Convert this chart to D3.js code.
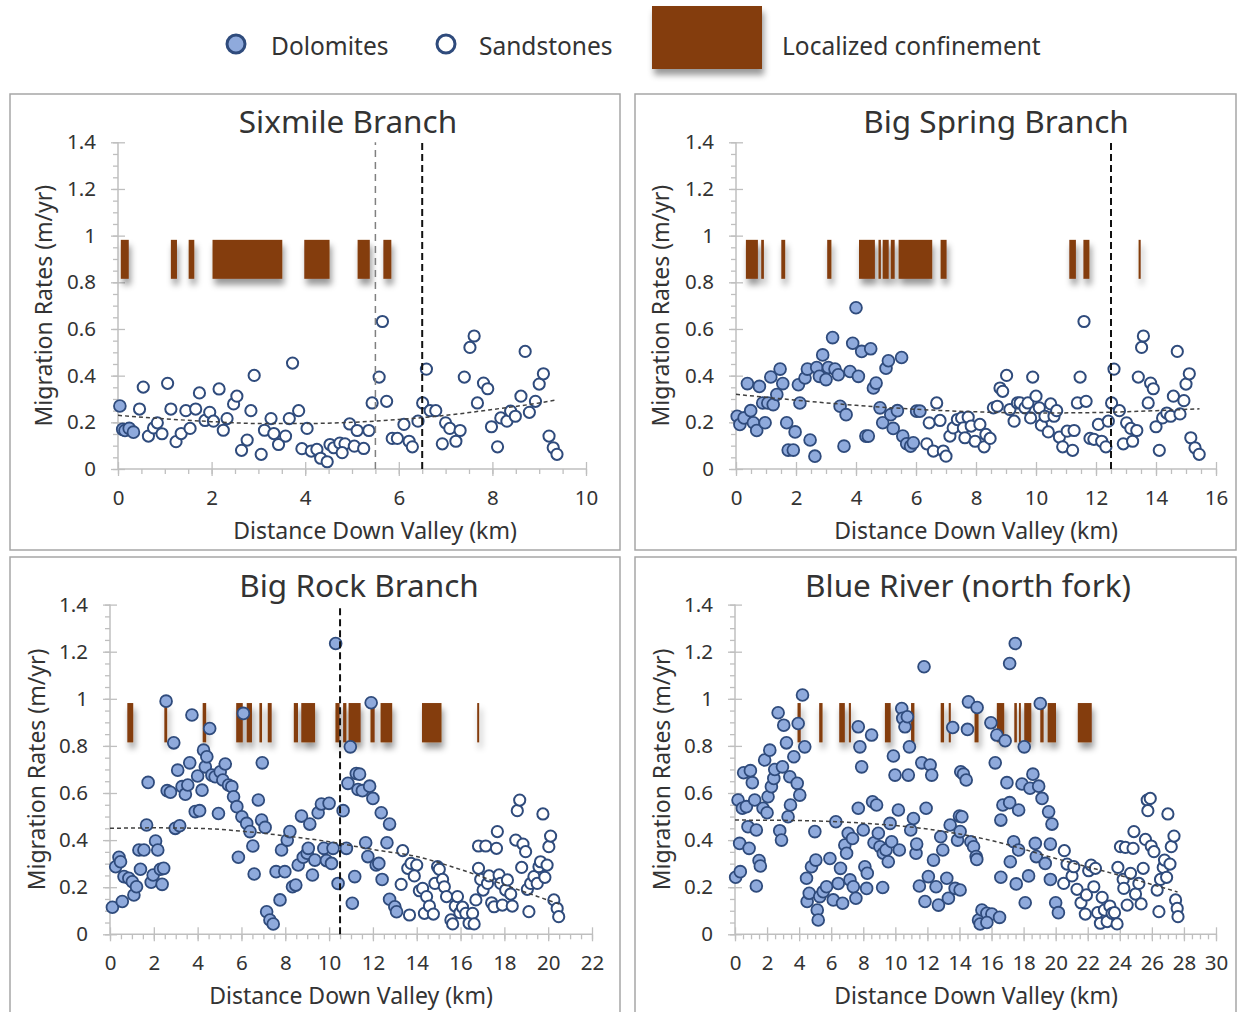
<!DOCTYPE html>
<html>
<head>
<meta charset="utf-8">
<script src="https://cdn.jsdelivr.net/npm/d3@7"></script>
<style>
  body { margin: 0; background: #fff; }
  text { font-family: "Noto Sans", "Open Sans", sans-serif; fill: #333; }
</style>
</head>
<body>
<div id="container"></div>
<script>
// ---- data (km, m/yr) ----
const dolo1 = [[0.04,0.27],[0.1,0.17],[0.15,0.165],[0.24,0.174],[0.33,0.158]];
const sand1 = [[0.46,0.257],[0.54,0.351],[0.65,0.141],[0.76,0.176],[0.84,0.198],[0.94,0.151],[1.06,0.367],[1.13,0.257],[1.24,0.117],[1.35,0.152],[1.45,0.25],[1.54,0.174],[1.66,0.257],[1.74,0.326],[1.86,0.208],[1.96,0.243],[2.04,0.205],[2.16,0.343],[2.25,0.166],[2.33,0.216],[2.47,0.279],[2.54,0.312],[2.64,0.08],[2.76,0.124],[2.84,0.25],[2.91,0.401],[3.06,0.063],[3.13,0.166],[3.27,0.216],[3.33,0.152],[3.43,0.105],[3.58,0.141],[3.66,0.216],[3.73,0.454],[3.86,0.25],[3.93,0.087],[4.04,0.174],[4.13,0.077],[4.25,0.084],[4.33,0.046],[4.47,0.031],[4.53,0.105],[4.61,0.091],[4.74,0.111],[4.85,0.108],[4.95,0.193],[5.05,0.098],[5.11,0.165],[4.79,0.07],[5.25,0.088],[5.36,0.165],[5.43,0.283],[5.58,0.394],[5.65,0.632],[5.74,0.29],[5.86,0.131],[5.97,0.131],[6.11,0.191],[6.22,0.119],[6.29,0.095],[6.41,0.205],[6.51,0.283],[6.59,0.428],[6.67,0.25],[6.79,0.25],[6.93,0.108],[7.0,0.198],[7.09,0.174],[7.22,0.119],[7.31,0.165],[7.4,0.394],[7.52,0.521],[7.61,0.57],[7.68,0.283],[7.81,0.368],[7.9,0.344],[7.98,0.181],[8.11,0.095],[8.18,0.219],[8.31,0.205],[8.39,0.248],[8.49,0.226],[8.61,0.312],[8.7,0.504],[8.79,0.243],[8.92,0.29],[9.0,0.364],[9.09,0.408],[9.21,0.141],[9.3,0.091],[9.38,0.063]];
const conf1 = [[0.06,0.23],[1.13,1.26],[1.51,1.63],[2.02,3.51],[3.98,4.52],[5.12,5.38],[5.67,5.84]];
const trend1 = [[0,0.23],[1,0.215],[2,0.203],[3,0.195],[4,0.195],[5,0.2],[6,0.212],[7,0.23],[8,0.255],[9,0.283],[9.35,0.295]];
const guideGray1 = [5.5];
const guideBlack1 = [6.5];

const dolo2 = [[0.04,0.226],[0.13,0.191],[0.27,0.219],[0.38,0.366],[0.49,0.25],[0.58,0.198],[0.69,0.165],[0.78,0.354],[0.89,0.283],[0.97,0.198],[1.06,0.283],[1.16,0.394],[1.24,0.276],[1.36,0.319],[1.47,0.428],[1.56,0.366],[1.69,0.198],[1.74,0.081],[1.91,0.081],[1.97,0.159],[2.08,0.361],[2.13,0.283],[2.3,0.39],[2.38,0.428],[2.47,0.124],[2.63,0.055],[2.69,0.435],[2.78,0.397],[2.89,0.489],[3.0,0.383],[3.08,0.435],[3.22,0.563],[3.3,0.428],[3.41,0.404],[3.47,0.269],[3.6,0.098],[3.67,0.233],[3.8,0.418],[3.89,0.539],[4.0,0.691],[4.08,0.397],[4.19,0.504],[4.33,0.141],[4.41,0.141],[4.49,0.515],[4.58,0.347],[4.67,0.368],[4.8,0.262],[4.89,0.198],[5.0,0.432],[5.08,0.464],[5.16,0.233],[5.24,0.174],[5.38,0.25],[5.52,0.478],[5.56,0.141],[5.69,0.108],[5.82,0.098],[5.91,0.112],[6.02,0.248],[6.13,0.248]];
const sand2 = [[6.36,0.108],[6.44,0.198],[6.58,0.077],[6.69,0.283],[6.8,0.208],[6.91,0.077],[7.0,0.055],[7.13,0.141],[7.24,0.176],[7.38,0.212],[7.52,0.219],[7.58,0.176],[7.63,0.134],[7.74,0.222],[7.84,0.184],[7.97,0.119],[8.13,0.191],[8.27,0.095],[8.33,0.148],[8.47,0.131],[8.58,0.262],[8.71,0.269],[8.8,0.347],[8.89,0.333],[9.02,0.401],[9.13,0.255],[9.27,0.205],[9.38,0.283],[9.47,0.283],[9.63,0.262],[9.73,0.283],[9.82,0.219],[9.89,0.394],[10.0,0.312],[10.11,0.262],[10.18,0.188],[10.3,0.226],[10.41,0.159],[10.49,0.279],[10.6,0.226],[10.69,0.25],[10.78,0.137],[10.89,0.095],[11.04,0.162],[11.22,0.08],[11.27,0.165],[11.38,0.283],[11.47,0.394],[11.6,0.632],[11.67,0.29],[11.8,0.131],[11.93,0.127],[12.08,0.191],[12.19,0.119],[12.33,0.095],[12.41,0.205],[12.52,0.283],[12.6,0.428],[12.78,0.25],[12.91,0.108],[13.02,0.198],[13.16,0.174],[13.22,0.119],[13.36,0.165],[13.41,0.394],[13.52,0.521],[13.58,0.57],[13.74,0.283],[13.82,0.368],[13.91,0.344],[14.0,0.181],[14.11,0.08],[14.22,0.219],[14.36,0.24],[14.49,0.226],[14.58,0.312],[14.71,0.504],[14.8,0.236],[14.93,0.293],[15.0,0.364],[15.11,0.408],[15.16,0.134],[15.3,0.091],[15.44,0.063]];
const conf2 = [[0.33,0.73],[0.84,0.93],[1.51,1.64],[3.04,3.18],[4.1,4.63],[4.75,4.83],[4.89,5.09],[5.16,5.29],[5.42,6.54],[6.82,7.02],[11.11,11.33],[11.58,11.78],[13.42,13.49]];
const trend2 = [[0,0.32],[2,0.295],[4,0.273],[6,0.256],[8,0.245],[10,0.24],[12,0.242],[14,0.25],[15.45,0.258]];
const guideBlack2 = [12.5];

const dolo3 = [[0.11,0.115],[0.26,0.287],[0.41,0.327],[0.48,0.308],[0.56,0.139],[0.64,0.245],[0.86,0.238],[1.02,0.223],[1.09,0.167],[1.21,0.202],[1.32,0.358],[1.39,0.276],[1.55,0.358],[1.67,0.464],[1.74,0.645],[1.88,0.221],[1.97,0.252],[2.08,0.396],[2.18,0.358],[2.3,0.276],[2.38,0.212],[2.45,0.28],[2.56,0.99],[2.61,0.61],[2.76,0.603],[2.91,0.813],[2.98,0.45],[3.09,0.697],[3.18,0.461],[3.29,0.627],[3.44,0.595],[3.55,0.634],[3.64,0.728],[3.74,0.931],[3.89,0.521],[4.0,0.672],[4.09,0.525],[4.2,0.612],[4.27,0.782],[4.35,0.711],[4.42,0.754],[4.55,0.874],[4.65,0.676],[4.8,0.669],[4.95,0.513],[5.03,0.69],[5.15,0.655],[5.26,0.723],[5.41,0.634],[5.56,0.627],[5.64,0.584],[5.79,0.542],[5.86,0.327],[6.02,0.499],[6.09,0.938],[6.24,0.471],[6.39,0.436],[6.52,0.375],[6.58,0.256],[6.77,0.57],[6.92,0.485],[6.95,0.728],[7.08,0.454],[7.15,0.096],[7.3,0.061],[7.45,0.044],[7.58,0.266],[7.76,0.146],[7.83,0.358],[7.98,0.266],[8.09,0.4],[8.21,0.436],[8.33,0.202],[8.48,0.209],[8.59,0.294],[8.74,0.502],[8.82,0.327],[9.0,0.344],[9.05,0.365],[9.12,0.468],[9.24,0.252],[9.35,0.315],[9.5,0.516],[9.65,0.553],[9.76,0.365],[9.88,0.313],[10.0,0.556],[10.11,0.301],[10.18,0.365],[10.3,1.235],[10.41,0.216],[10.64,0.525],[10.79,0.365],[10.86,0.641],[10.97,0.796],[11.06,0.132],[11.17,0.245],[11.24,0.683],[11.92,0.983],[11.39,0.68],[11.32,0.615],[11.52,0.61],[11.85,0.629],[12.0,0.577],[12.38,0.516],[12.76,0.468],[11.67,0.389],[12.64,0.389],[11.77,0.33],[12.15,0.294],[12.27,0.301],[12.42,0.233],[12.76,0.149],[13.0,0.117],[13.08,0.096]];
const sand3 = [[13.36,0.355],[13.59,0.28],[13.74,0.301],[14.0,0.294],[13.89,0.248],[13.29,0.212],[13.67,0.082],[14.12,0.185],[14.27,0.195],[14.35,0.089],[14.45,0.16],[14.58,0.12],[14.76,0.086],[14.83,0.216],[14.95,0.287],[15.03,0.276],[15.18,0.233],[15.26,0.202],[15.36,0.16],[15.56,0.061],[15.64,0.044],[15.76,0.12],[15.86,0.16],[15.97,0.092],[16.09,0.115],[16.24,0.089],[16.39,0.047],[16.55,0.089],[16.62,0.044],[16.7,0.146],[16.82,0.375],[16.82,0.28],[16.92,0.233],[17.03,0.188],[17.15,0.375],[17.23,0.216],[17.3,0.248],[17.42,0.134],[17.53,0.117],[17.64,0.365],[17.68,0.436],[17.76,0.252],[17.83,0.216],[17.91,0.124],[18.06,0.188],[18.14,0.231],[18.29,0.171],[18.36,0.12],[18.52,0.4],[18.59,0.525],[18.7,0.57],[18.79,0.284],[18.85,0.383],[18.97,0.351],[19.05,0.191],[19.12,0.096],[19.2,0.216],[19.35,0.245],[19.5,0.216],[19.58,0.287],[19.65,0.308],[19.76,0.511],[19.85,0.242],[19.95,0.294],[20.03,0.372],[20.11,0.417],[20.26,0.146],[20.41,0.11],[20.48,0.075]];
const conf3 = [[0.79,1.06],[2.48,2.61],[4.23,4.39],[5.76,6.06],[6.24,6.48],[6.82,6.94],[7.2,7.38],[8.39,8.58],[8.73,9.36],[10.29,10.48],[10.64,10.79],[10.89,11.44],[11.89,12.08],[12.35,12.88],[14.24,15.13],[16.76,16.85]];
const trend3 = [[0,0.45],[2,0.452],[4,0.45],[6,0.438],[8,0.418],[10,0.393],[12,0.36],[14,0.33],[16,0.275],[18,0.21],[20.6,0.125]];
const guideBlack3 = [10.5];

const dolo4 = [[0.04,0.242],[0.33,0.266],[0.19,0.57],[0.29,0.386],[0.46,0.535],[0.54,0.686],[0.71,0.542],[0.81,0.457],[0.88,0.365],[0.96,0.695],[1.08,0.644],[1.23,0.57],[1.33,0.443],[1.33,0.205],[1.5,0.313],[1.58,0.29],[1.75,0.535],[1.85,0.74],[2.0,0.516],[2.06,0.584],[2.17,0.782],[2.27,0.627],[2.42,0.662],[2.48,0.7],[2.69,0.941],[2.79,0.44],[2.9,0.4],[2.96,0.711],[3.04,0.888],[3.21,0.813],[3.31,0.499],[3.42,0.669],[3.46,0.549],[3.67,0.754],[3.88,0.641],[3.94,0.895],[4.04,0.591],[4.21,1.016],[4.35,0.796],[4.46,0.238],[4.5,0.139],[4.63,0.174],[4.77,0.287],[4.98,0.436],[5.04,0.315],[5.13,0.103],[5.19,0.061],[5.29,0.16],[5.5,0.181],[5.71,0.202],[5.92,0.322],[6.13,0.146],[6.29,0.478],[6.44,0.216],[6.58,0.28],[6.71,0.132],[6.85,0.379],[6.96,0.344],[7.06,0.429],[7.17,0.231],[7.33,0.407],[7.38,0.202],[7.54,0.153],[7.69,0.535],[7.69,0.881],[7.79,0.796],[7.9,0.711],[8.0,0.443],[8.1,0.287],[8.21,0.195],[8.25,0.259],[8.52,0.846],[8.58,0.563],[8.67,0.389],[8.83,0.549],[8.94,0.429],[9.04,0.372],[9.21,0.199],[9.25,0.344],[9.42,0.358],[9.56,0.308],[9.67,0.471],[9.77,0.393],[9.88,0.757],[9.98,0.676],[10.19,0.528],[10.25,0.358],[10.4,0.959],[10.46,0.917],[10.6,0.881],[10.75,0.924],[10.81,0.676],[10.88,0.796],[10.96,0.443],[11.13,0.492],[11.29,0.344],[11.33,0.383],[11.5,0.205],[11.65,0.728],[11.79,1.136],[11.85,0.139],[11.92,0.535],[12.06,0.245],[12.17,0.719],[12.27,0.676],[12.38,0.315],[12.54,0.202],[12.69,0.124],[12.83,0.414],[12.96,0.358],[13.21,0.238],[13.31,0.153],[13.42,0.464],[13.58,0.878],[13.73,0.195],[13.88,0.4],[14.0,0.502],[14.08,0.69],[14.25,0.68],[14.42,0.655],[14.5,0.87],[14.56,0.987],[14.71,0.393],[14.88,0.372],[15.04,0.33],[15.19,0.061],[17.48,1.235],[17.13,1.15],[15.1,0.963],[19.04,0.98],[15.96,0.898],[16.33,0.846],[16.85,0.822],[18.04,0.796],[16.23,0.728],[18.58,0.68],[16.96,0.644],[17.9,0.638],[18.4,0.62],[18.94,0.629],[19.15,0.577],[16.71,0.549],[17.13,0.559],[17.69,0.528],[16.58,0.485],[19.56,0.52],[19.77,0.468],[14.15,0.499],[14.04,0.436],[17.38,0.393],[17.69,0.358],[17.17,0.308],[18.73,0.386],[18.79,0.33],[19.35,0.301],[19.67,0.383],[15.08,0.318],[16.58,0.242],[17.54,0.214],[18.31,0.248],[19.67,0.233],[18.1,0.134],[14.04,0.188],[15.4,0.103],[15.71,0.089],[16.02,0.086],[16.5,0.072],[15.29,0.044],[15.71,0.05],[20.0,0.134],[20.17,0.092]];
const sand4 = [[20.54,0.355],[20.5,0.216],[20.71,0.298],[21.02,0.248],[21.13,0.287],[21.33,0.191],[21.58,0.134],[21.85,0.086],[21.92,0.167],[22.06,0.27],[22.21,0.294],[22.38,0.202],[22.48,0.28],[22.62,0.092],[22.79,0.047],[22.9,0.157],[23.04,0.103],[23.21,0.054],[23.38,0.12],[23.52,0.089],[23.67,0.092],[23.83,0.044],[23.88,0.284],[24.04,0.372],[24.21,0.233],[24.25,0.195],[24.35,0.369],[24.46,0.124],[24.67,0.259],[24.83,0.365],[24.88,0.436],[24.98,0.171],[25.19,0.216],[25.33,0.129],[25.46,0.28],[25.6,0.403],[25.71,0.57],[25.75,0.525],[25.9,0.577],[25.96,0.375],[26.13,0.351],[26.33,0.188],[26.44,0.096],[26.54,0.233],[26.71,0.284],[26.79,0.315],[26.92,0.242],[27.0,0.511],[27.13,0.298],[27.21,0.372],[27.38,0.417],[27.48,0.146],[27.58,0.11],[27.63,0.075]];
const conf4 = [[3.9,4.1],[5.25,5.46],[6.5,6.85],[7.1,7.23],[9.35,9.71],[10.98,11.19],[12.83,13.04],[13.33,13.46],[14.94,15.19],[16.33,16.79],[17.42,17.58],[17.71,17.83],[18.04,18.48],[19.04,19.25],[19.5,20.02],[21.38,22.25]];
const trend4 = [[0,0.485],[4,0.483],[8,0.472],[12,0.447],[16,0.398],[20,0.322],[24,0.25],[27.6,0.18]];

const titles = ['Sixmile Branch', 'Big Spring Branch', 'Big Rock Branch', 'Blue River (north fork)'];
const xMaxes = [10, 16, 22, 30];
const yTicks = [0, 0.2, 0.4, 0.6, 0.8, 1, 1.2, 1.4];
const confBand = [0.815, 0.982];
const legendItems = ['Dolomites', 'Sandstones', 'Localized confinement'];

// ---- layout ----
const W = 1241, H = 1012;
const layout = [
  { box: [10, 94, 610, 456], xr: [118, 586], yr: [469, 142.3], tx: 348, ty: 133, ylx: 44, xlx: 375 },
  { box: [635, 94, 601, 456], xr: [736, 1216], yr: [469, 142.3], tx: 996, ty: 133, ylx: 661, xlx: 976 },
  { box: [10, 557, 610, 470], xr: [110, 592], yr: [934.3, 604.6], tx: 359, ty: 597, ylx: 37, xlx: 351 },
  { box: [635, 557, 601, 470], xr: [735, 1216], yr: [934.3, 604.6], tx: 968, ty: 597, ylx: 662, xlx: 976 }
];
const panels = [
  { dolo: dolo1, sand: sand1, conf: conf1, trend: trend1, gray: guideGray1, black: guideBlack1 },
  { dolo: dolo2, sand: sand2, conf: conf2, trend: trend2, gray: [], black: guideBlack2 },
  { dolo: dolo3, sand: sand3, conf: conf3, trend: trend3, gray: [], black: guideBlack3 },
  { dolo: dolo4, sand: sand4, conf: conf4, trend: trend4, gray: [], black: [] }
];

const axisColor = '#bfbfbf';
const dotFill = '#8faadc';
const dotStroke = '#2f4b7c';
const brown = '#843c0c';

const svg = d3.select('#container').append('svg')
  .attr('width', W).attr('height', H);

const defs = svg.append('defs');
defs.append('filter').attr('id', 'shadow')
  .attr('x', '-20%').attr('y', '-20%').attr('width', '140%').attr('height', '160%')
  .append('feDropShadow')
  .attr('dx', 2).attr('dy', 6).attr('stdDeviation', 3)
  .attr('flood-color', '#000').attr('flood-opacity', 0.4);

// ---- legend ----
const legend = svg.append('g').attr('class', 'legend');
legend.append('circle').attr('cx', 236).attr('cy', 44).attr('r', 9)
  .attr('fill', dotFill).attr('stroke', dotStroke).attr('stroke-width', 3);
legend.append('circle').attr('cx', 446).attr('cy', 44).attr('r', 9)
  .attr('fill', '#fff').attr('stroke', dotStroke).attr('stroke-width', 3);
legend.append('rect').attr('x', 652).attr('y', 6).attr('width', 110).attr('height', 63)
  .attr('fill', brown).attr('filter', 'url(#shadow)');
[[271, legendItems[0]], [479, legendItems[1]], [782, legendItems[2]]].forEach(function (d) {
  legend.append('text').attr('x', d[0]).attr('y', 55)
    .style('font-size', '24.5px').text(d[1]);
});

// ---- panels ----
panels.forEach(function (p, i) {
  const L = layout[i];
  const g = svg.append('g').attr('class', 'panel');

  g.append('rect')
    .attr('x', L.box[0]).attr('y', L.box[1])
    .attr('width', L.box[2]).attr('height', L.box[3])
    .attr('fill', '#fff').attr('stroke', '#a6a6a6').attr('stroke-width', 1.5);

  const x = d3.scaleLinear().domain([0, xMaxes[i]]).range(L.xr);
  const y = d3.scaleLinear().domain([0, 1.4]).range(L.yr);

  const xMajor = d3.range(0, xMaxes[i] + 0.001, 2);
  const xMinor = d3.range(0, xMaxes[i] + 0.001, 0.5);
  const yMinor = d3.range(0, 1.4001, 0.05);

  function clean(sel) {
    sel.select('.domain').remove();
    sel.selectAll('line').attr('stroke', axisColor).attr('stroke-width', 1.3);
    sel.selectAll('text').remove();
  }

  // y axis
  g.append('g').attr('transform', 'translate(' + x(0) + ',0)')
    .call(d3.axisLeft(y).tickValues(yMinor).tickSize(5)).call(clean);
  g.append('g').attr('transform', 'translate(' + (x(0) + 7) + ',0)')
    .call(d3.axisLeft(y).tickValues(yTicks).tickSize(14)).call(clean);
  g.append('line')
    .attr('x1', x(0)).attr('x2', x(0)).attr('y1', y(0)).attr('y2', y(1.4))
    .attr('stroke', axisColor).attr('stroke-width', 1.5);
  const yLab = g.append('g').attr('transform', 'translate(' + x(0) + ',0)')
    .call(d3.axisLeft(y).tickValues(yTicks).tickSize(0).tickPadding(22)
      .tickFormat(d3.format('~g')));
  yLab.select('.domain').remove();
  yLab.selectAll('text').style('font-size', '20.5px').attr('fill', '#333')
    .style('font-family', '"Noto Sans", sans-serif');

  // x axis
  g.append('g').attr('transform', 'translate(0,' + y(0) + ')')
    .call(d3.axisBottom(x).tickValues(xMinor).tickSize(5)).call(clean);
  g.append('g').attr('transform', 'translate(0,' + (y(0) - 7) + ')')
    .call(d3.axisBottom(x).tickValues(xMajor).tickSize(14)).call(clean);
  g.append('line')
    .attr('x1', x(0)).attr('x2', x(xMaxes[i])).attr('y1', y(0)).attr('y2', y(0))
    .attr('stroke', axisColor).attr('stroke-width', 1.5);
  const xLab = g.append('g').attr('transform', 'translate(0,' + y(0) + ')')
    .call(d3.axisBottom(x).tickValues(xMajor).tickSize(0).tickPadding(21));
  xLab.select('.domain').remove();
  xLab.selectAll('text').style('font-size', '20.5px').attr('fill', '#333')
    .style('font-family', '"Noto Sans", sans-serif');

  // titles
  g.append('text').attr('x', L.tx).attr('y', L.ty)
    .style('text-anchor', 'middle').style('font-size', '31.5px').attr('fill', '#262626')
    .text(titles[i]);
  g.append('text').attr('x', L.xlx).attr('y', y(0) + 70)
    .style('text-anchor', 'middle').style('font-size', '23px')
    .text('Distance Down Valley (km)');
  g.append('text')
    .attr('transform', 'translate(' + L.ylx + ',' + y(0.7) + ') rotate(-90)')
    .attr('dy', '0.35em')
    .style('text-anchor', 'middle').style('font-size', '23px')
    .text('Migration Rates (m/yr)');

  // confinement bars
  g.append('g').attr('filter', 'url(#shadow)')
    .selectAll('rect').data(p.conf).enter().append('rect')
    .attr('x', function (d) { return x(d[0]); })
    .attr('width', function (d) { return Math.max(1.5, x(d[1]) - x(d[0])); })
    .attr('y', y(confBand[1]))
    .attr('height', y(confBand[0]) - y(confBand[1]))
    .attr('fill', brown);

  // points
  g.append('g').selectAll('circle').data(p.sand).enter().append('circle')
    .attr('cx', function (d) { return x(d[0]); })
    .attr('cy', function (d) { return y(d[1]); })
    .attr('r', 5.6)
    .attr('fill', '#fff').attr('stroke', dotStroke).attr('stroke-width', 2);
  g.append('g').selectAll('circle').data(p.dolo).enter().append('circle')
    .attr('cx', function (d) { return x(d[0]); })
    .attr('cy', function (d) { return y(d[1]); })
    .attr('r', 5.9)
    .attr('fill', dotFill).attr('stroke', dotStroke).attr('stroke-width', 1.8);

  // trend line
  const line = d3.line()
    .x(function (d) { return x(d[0]); })
    .y(function (d) { return y(d[1]); })
    .curve(d3.curveMonotoneX);
  g.append('path').datum(p.trend).attr('d', line)
    .attr('fill', 'none').attr('stroke', '#404040')
    .attr('stroke-width', 1.5).attr('stroke-dasharray', '4,3');

  // guide lines
  g.selectAll('.guide-gray').data(p.gray).enter().append('line')
    .attr('x1', x).attr('x2', x).attr('y1', y(0)).attr('y2', y(1.4))
    .attr('stroke', '#808080').attr('stroke-width', 1.5).attr('stroke-dasharray', '7,5');
  g.selectAll('.guide-black').data(p.black).enter().append('line')
    .attr('x1', x).attr('x2', x).attr('y1', y(0)).attr('y2', y(1.4))
    .attr('stroke', '#111').attr('stroke-width', 2).attr('stroke-dasharray', '7,4');
});
</script>
</body>
</html>
